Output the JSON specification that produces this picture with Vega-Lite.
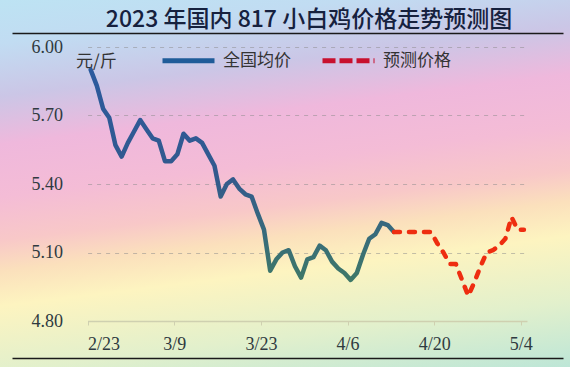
{
  "$schema": "https://vega.github.io/schema/vega-lite/v6.json",
  "width": 570,
  "height": 367,
  "autosize": {"type": "none"},
  "padding": 0,
  "background": "#f4c4d6",
  "view": {
    "stroke": null,
    "fill": {
      "gradient": "linear",
      "x1": 0, "y1": 0, "x2": 0.22, "y2": 1.15,
      "stops": [
        {"offset": 0, "color": "#bde3f3"},
        {"offset": 0.1, "color": "#c1dcf2"},
        {"offset": 0.22, "color": "#cbc6e6"},
        {"offset": 0.33, "color": "#efb8dc"},
        {"offset": 0.45, "color": "#f4bcd6"},
        {"offset": 0.55, "color": "#f8c8c8"},
        {"offset": 0.62, "color": "#fbe0bc"},
        {"offset": 0.7, "color": "#fdf4c0"},
        {"offset": 0.85, "color": "#e2f0cc"},
        {"offset": 1, "color": "#bde6d7"}
      ]
    }
  },
  "title": {
    "text": "2023 年国内 817 小白鸡价格走势预测图",
    "font": "Noto Sans CJK SC",
    "fontSize": 23,
    "fontWeight": 500,
    "color": "#16213e",
    "anchor": "middle",
    "frame": "group",
    "offset": -32,
    "dx": 24
  },
  "data": {
    "values": [
      {"series": "全国均价", "date": "2023-02-23", "price": 5.90},
      {"series": "全国均价", "date": "2023-02-24", "price": 5.83},
      {"series": "全国均价", "date": "2023-02-25", "price": 5.73},
      {"series": "全国均价", "date": "2023-02-26", "price": 5.69},
      {"series": "全国均价", "date": "2023-02-27", "price": 5.57},
      {"series": "全国均价", "date": "2023-02-28", "price": 5.52},
      {"series": "全国均价", "date": "2023-03-01", "price": 5.58},
      {"series": "全国均价", "date": "2023-03-02", "price": 5.63},
      {"series": "全国均价", "date": "2023-03-03", "price": 5.68},
      {"series": "全国均价", "date": "2023-03-04", "price": 5.64},
      {"series": "全国均价", "date": "2023-03-05", "price": 5.60},
      {"series": "全国均价", "date": "2023-03-06", "price": 5.59},
      {"series": "全国均价", "date": "2023-03-07", "price": 5.50},
      {"series": "全国均价", "date": "2023-03-08", "price": 5.50},
      {"series": "全国均价", "date": "2023-03-09", "price": 5.53},
      {"series": "全国均价", "date": "2023-03-10", "price": 5.62},
      {"series": "全国均价", "date": "2023-03-11", "price": 5.59},
      {"series": "全国均价", "date": "2023-03-12", "price": 5.60},
      {"series": "全国均价", "date": "2023-03-13", "price": 5.58},
      {"series": "全国均价", "date": "2023-03-14", "price": 5.53},
      {"series": "全国均价", "date": "2023-03-15", "price": 5.48},
      {"series": "全国均价", "date": "2023-03-16", "price": 5.345},
      {"series": "全国均价", "date": "2023-03-17", "price": 5.40},
      {"series": "全国均价", "date": "2023-03-18", "price": 5.42},
      {"series": "全国均价", "date": "2023-03-19", "price": 5.38},
      {"series": "全国均价", "date": "2023-03-20", "price": 5.355},
      {"series": "全国均价", "date": "2023-03-21", "price": 5.345},
      {"series": "全国均价", "date": "2023-03-22", "price": 5.27},
      {"series": "全国均价", "date": "2023-03-23", "price": 5.20},
      {"series": "全国均价", "date": "2023-03-24", "price": 5.02},
      {"series": "全国均价", "date": "2023-03-25", "price": 5.07},
      {"series": "全国均价", "date": "2023-03-26", "price": 5.10},
      {"series": "全国均价", "date": "2023-03-27", "price": 5.11},
      {"series": "全国均价", "date": "2023-03-28", "price": 5.04},
      {"series": "全国均价", "date": "2023-03-29", "price": 4.99},
      {"series": "全国均价", "date": "2023-03-30", "price": 5.07},
      {"series": "全国均价", "date": "2023-03-31", "price": 5.08},
      {"series": "全国均价", "date": "2023-04-01", "price": 5.13},
      {"series": "全国均价", "date": "2023-04-02", "price": 5.11},
      {"series": "全国均价", "date": "2023-04-03", "price": 5.06},
      {"series": "全国均价", "date": "2023-04-04", "price": 5.03},
      {"series": "全国均价", "date": "2023-04-05", "price": 5.01},
      {"series": "全国均价", "date": "2023-04-06", "price": 4.98},
      {"series": "全国均价", "date": "2023-04-07", "price": 5.01},
      {"series": "全国均价", "date": "2023-04-08", "price": 5.09},
      {"series": "全国均价", "date": "2023-04-09", "price": 5.16},
      {"series": "全国均价", "date": "2023-04-10", "price": 5.18},
      {"series": "全国均价", "date": "2023-04-11", "price": 5.23},
      {"series": "全国均价", "date": "2023-04-12", "price": 5.22},
      {"series": "全国均价", "date": "2023-04-13", "price": 5.19},
      {"series": "预测价格", "date": "2023-04-13", "price": 5.19},
      {"series": "预测价格", "date": "2023-04-14", "price": 5.19},
      {"series": "预测价格", "date": "2023-04-15", "price": 5.19},
      {"series": "预测价格", "date": "2023-04-16", "price": 5.19},
      {"series": "预测价格", "date": "2023-04-17", "price": 5.19},
      {"series": "预测价格", "date": "2023-04-18", "price": 5.19},
      {"series": "预测价格", "date": "2023-04-19", "price": 5.19},
      {"series": "预测价格", "date": "2023-04-20", "price": 5.14},
      {"series": "预测价格", "date": "2023-04-21", "price": 5.10},
      {"series": "预测价格", "date": "2023-04-22", "price": 5.05},
      {"series": "预测价格", "date": "2023-04-23", "price": 5.05},
      {"series": "预测价格", "date": "2023-04-24", "price": 4.98},
      {"series": "预测价格", "date": "2023-04-25", "price": 4.91},
      {"series": "预测价格", "date": "2023-04-26", "price": 4.97},
      {"series": "预测价格", "date": "2023-04-27", "price": 5.04},
      {"series": "预测价格", "date": "2023-04-28", "price": 5.10},
      {"series": "预测价格", "date": "2023-04-29", "price": 5.11},
      {"series": "预测价格", "date": "2023-04-30", "price": 5.13},
      {"series": "预测价格", "date": "2023-05-01", "price": 5.16},
      {"series": "预测价格", "date": "2023-05-02", "price": 5.255},
      {"series": "预测价格", "date": "2023-05-03", "price": 5.20},
      {"series": "预测价格", "date": "2023-05-04", "price": 5.20}
    ]
  },
  "encoding": {
    "y": {
      "field": "price",
      "type": "quantitative",
      "scale": {"domain": [4.8, 6.0], "range": [321, 47], "nice": false, "zero": false},
      "axis": {
        "values": [4.8, 5.1, 5.4, 5.7, 6.0],
        "format": ".2f",
        "offset": -87.6,
        "domain": false,
        "ticks": false,
        "tickSize": 0,
        "labelPadding": 25,
        "labelFont": "Liberation Serif",
        "labelFontSize": 18,
        "labelColor": "#2f3a40",
        "grid": true,
        "gridDash": [4, 5],
        "gridColor": "#8a8a8a",
        "gridOpacity": 0.5,
        "title": "元/斤",
        "titleAngle": 0,
        "titleX": -12,
        "titleY": 61,
        "titleAlign": "left",
        "titleBaseline": "middle",
        "titleFont": "Noto Sans CJK SC",
        "titleFontSize": 17,
        "titleFontWeight": "normal",
        "titleColor": "#333333"
      }
    }
  },
  "layer": [
    {
      "transform": [{"filter": "false"}],
      "mark": {"type": "line"},
      "encoding": {
        "color": {
          "field": "series",
          "type": "nominal",
          "scale": {"domain": ["全国均价", "预测价格"], "range": ["#1f5c99", "#c8102e"]},
          "legend": {"orient": "none", "legendX": 160, "legendY": 32, "direction": "horizontal", "title": null}
        },
        "strokeDash": {
          "field": "series",
          "type": "nominal",
          "scale": {"domain": ["全国均价", "预测价格"], "range": [[1, 0], [13, 4]]},
          "legend": {"orient": "none", "legendX": 160, "legendY": 32, "direction": "horizontal", "title": null}
        }
      }
    },
    {
      "transform": [{"filter": "datum.series === '全国均价'"}],
      "mark": {
        "type": "line",
        "strokeWidth": 4.5,
        "strokeCap": "round",
        "strokeJoin": "round",
        "stroke": {
          "gradient": "linear",
          "x1": 0, "y1": 0, "x2": 0, "y2": 1,
          "stops": [
            {"offset": 0, "color": "#2b5a9e"},
            {"offset": 0.5, "color": "#33598d"},
            {"offset": 0.8, "color": "#386c7a"},
            {"offset": 1, "color": "#3e7868"}
          ]
        }
      },
      "encoding": {
        "x": {
          "field": "date",
          "type": "temporal",
          "timeUnit": "utcyearmonthdate",
          "bandPosition": 0.5,
          "scale": {
            "domain": [
              {"year": 2023, "month": 2, "date": 23, "utc": true},
              {"year": 2023, "month": 5, "date": 5, "utc": true}
            ],
            "range": [87.6, 527]
          },
          "axis": {
            "orient": "bottom",
            "values": [
              {"year": 2023, "month": 2, "date": 23, "utc": true},
              {"year": 2023, "month": 3, "date": 9, "utc": true},
              {"year": 2023, "month": 3, "date": 23, "utc": true},
              {"year": 2023, "month": 4, "date": 6, "utc": true},
              {"year": 2023, "month": 4, "date": 20, "utc": true},
              {"year": 2023, "month": 5, "date": 4, "utc": true}
            ],
            "format": "%-m/%-d",
            "offset": -46,
            "title": null,
            "grid": false,
            "domainColor": "#cfd0b0",
            "domainWidth": 1.5,
            "tickColor": "#cfd0b0",
            "tickSize": 4,
            "labelPadding": 10,
            "labelFont": "Liberation Serif",
            "labelFontSize": 18,
            "labelColor": "#2f3a40"
          }
        }
      }
    },
    {
      "transform": [{"filter": "datum.series === '预测价格'"}],
      "mark": {
        "type": "line",
        "strokeWidth": 4.5,
        "strokeCap": "round",
        "strokeJoin": "round",
        "strokeDash": [6, 9],
        "stroke": "#ee2d10"
      },
      "encoding": {
        "x": {
          "field": "date",
          "type": "temporal",
          "timeUnit": "utcyearmonthdate",
          "bandPosition": 0.5,
          "scale": {
            "domain": [
              {"year": 2023, "month": 2, "date": 23, "utc": true},
              {"year": 2023, "month": 5, "date": 5, "utc": true}
            ],
            "range": [87.6, 527]
          },
          "axis": null
        }
      }
    },
    {
      "transform": [{"filter": "false"}],
      "mark": {"type": "rule"},
      "encoding": {
        "x": {
          "field": "date",
          "type": "temporal",
          "scale": {
            "domain": [
              {"year": 2023, "month": 2, "date": 23, "utc": true},
              {"year": 2023, "month": 5, "date": 5, "utc": true}
            ],
            "range": [12, 563]
          },
          "axis": {"orient": "top", "offset": -33, "domain": true, "domainColor": "#1a1a1a", "domainWidth": 1.3, "ticks": false, "labels": false, "grid": false, "title": null}
        }
      }
    },
    {
      "transform": [{"filter": "false"}],
      "mark": {"type": "rule"},
      "encoding": {
        "x": {
          "field": "date",
          "type": "temporal",
          "scale": {
            "domain": [
              {"year": 2023, "month": 2, "date": 23, "utc": true},
              {"year": 2023, "month": 5, "date": 5, "utc": true}
            ],
            "range": [12, 563]
          },
          "axis": {"orient": "bottom", "offset": -9, "domain": true, "domainColor": "#1a1a1a", "domainWidth": 1.3, "ticks": false, "labels": false, "grid": false, "title": null}
        }
      }
    }
  ],
  "resolve": {"scale": {"x": "independent"}, "axis": {"x": "independent"}},
  "config": {
    "legend": {
      "symbolType": "stroke",
      "symbolSize": 2704,
      "symbolStrokeWidth": 5,
      "labelFont": "Noto Sans CJK SC",
      "labelFontSize": 17,
      "labelColor": "#333333",
      "labelOffset": 6,
      "columnPadding": 21,
      "padding": 0
    }
  }
}
